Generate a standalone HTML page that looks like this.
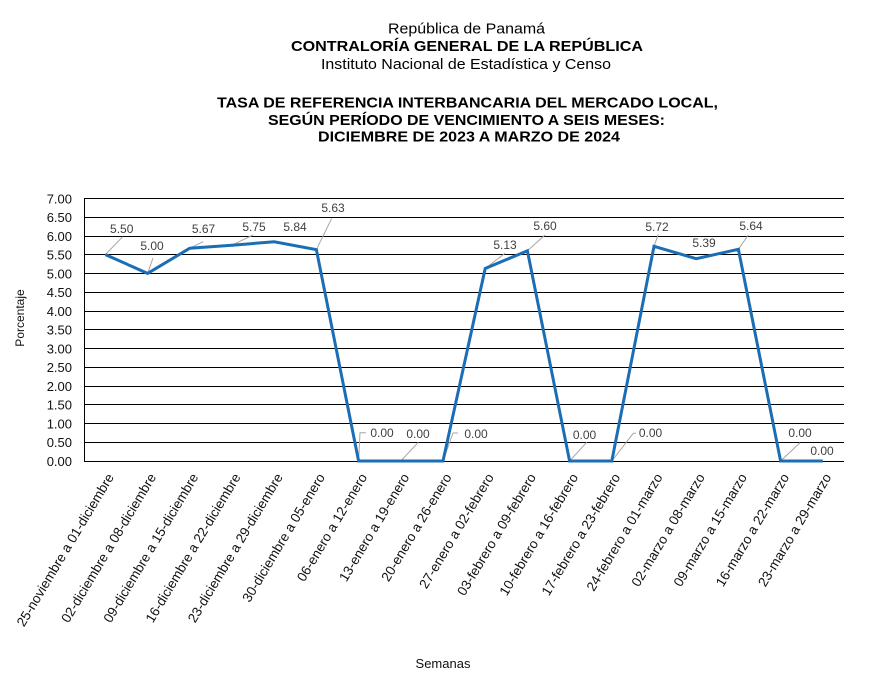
<!DOCTYPE html>
<html>
<head>
<meta charset="utf-8">
<style>
html,body{margin:0;padding:0;background:#fff;}
svg{display:block;}
text{font-family:"Liberation Sans",Arial,sans-serif;}
</style>
</head>
<body>
<svg width="878" height="679" viewBox="0 0 878 679" xmlns="http://www.w3.org/2000/svg">
<rect width="878" height="679" fill="#fff"/>
<!-- Titles -->
<g fill="#000" font-size="15" text-anchor="start">
<text x="388" y="33.3" textLength="157" lengthAdjust="spacingAndGlyphs">República de Panamá</text>
<text x="291" y="51" font-weight="bold" textLength="352" lengthAdjust="spacingAndGlyphs">CONTRALORÍA GENERAL DE LA REPÚBLICA</text>
<text x="321" y="69" textLength="290" lengthAdjust="spacingAndGlyphs">Instituto  Nacional de Estadística y Censo</text>
<text x="217" y="107.5" font-weight="bold" textLength="501" lengthAdjust="spacingAndGlyphs">TASA DE REFERENCIA INTERBANCARIA DEL MERCADO LOCAL,</text>
<text x="268" y="125" font-weight="bold" textLength="397" lengthAdjust="spacingAndGlyphs">SEGÚN PERÍODO DE VENCIMIENTO A SEIS MESES:</text>
<text x="318" y="141.5" font-weight="bold" textLength="302" lengthAdjust="spacingAndGlyphs">DICIEMBRE DE 2023 A MARZO DE 2024</text>
</g>

<!-- Gridlines -->
<g stroke="#000" stroke-width="1" shape-rendering="crispEdges">
<line x1="84" y1="198.5" x2="844" y2="198.5"/>
<line x1="84" y1="217.5" x2="844" y2="217.5"/>
<line x1="84" y1="236.5" x2="844" y2="236.5"/>
<line x1="84" y1="254.5" x2="844" y2="254.5"/>
<line x1="84" y1="273.5" x2="844" y2="273.5"/>
<line x1="84" y1="292.5" x2="844" y2="292.5"/>
<line x1="84" y1="311.5" x2="844" y2="311.5"/>
<line x1="84" y1="329.5" x2="844" y2="329.5"/>
<line x1="84" y1="348.5" x2="844" y2="348.5"/>
<line x1="84" y1="367.5" x2="844" y2="367.5"/>
<line x1="84" y1="386.5" x2="844" y2="386.5"/>
<line x1="84" y1="404.5" x2="844" y2="404.5"/>
<line x1="84" y1="423.5" x2="844" y2="423.5"/>
<line x1="84" y1="442.5" x2="844" y2="442.5"/>
<line x1="84" y1="461.5" x2="844" y2="461.5"/>
<line x1="84.5" y1="198" x2="84.5" y2="462"/>
</g>

<!-- Y tick labels -->
<g fill="#111" font-size="13" text-anchor="end">
<text x="72" y="203.3">7.00</text>
<text x="72" y="222">6.50</text>
<text x="72" y="240.8">6.00</text>
<text x="72" y="259.5">5.50</text>
<text x="72" y="278.3">5.00</text>
<text x="72" y="297">4.50</text>
<text x="72" y="315.8">4.00</text>
<text x="72" y="334.6">3.50</text>
<text x="72" y="353.3">3.00</text>
<text x="72" y="372.1">2.50</text>
<text x="72" y="390.8">2.00</text>
<text x="72" y="409.6">1.50</text>
<text x="72" y="428.4">1.00</text>
<text x="72" y="447.1">0.50</text>
<text x="72" y="465.9">0.00</text>
</g>

<!-- Y axis title -->
<text x="0" y="0" font-size="12" fill="#111" text-anchor="middle" transform="translate(24,318) rotate(-90)">Porcentaje</text>

<!-- Leader lines -->
<g stroke="#a6a6a6" stroke-width="1" fill="none">
<line x1="105.4" y1="254.6" x2="122.7" y2="236.7"/>
<line x1="147.6" y1="273.4" x2="153" y2="258"/>
<line x1="189.8" y1="248.2" x2="203.3" y2="241.7"/>
<line x1="232" y1="245.2" x2="253" y2="235"/>
<line x1="316.4" y1="249.7" x2="331.7" y2="218.3"/>
<polyline points="358.6,461 360,432.7 366,432.7"/>
<line x1="400.8" y1="461" x2="418.3" y2="442.3"/>
<polyline points="443,461 453,433 458,433"/>
<line x1="485.2" y1="268.5" x2="505" y2="253.3"/>
<line x1="527.4" y1="250.8" x2="545" y2="235"/>
<line x1="569.6" y1="461" x2="586.7" y2="442.3"/>
<polyline points="611.8,461 633.3,433.3 636,433.3"/>
<line x1="654" y1="246.3" x2="658.3" y2="234.3"/>
<line x1="738.4" y1="249.3" x2="748.3" y2="235"/>
<line x1="780.6" y1="461" x2="800" y2="442.7"/>
</g>

<!-- Series line -->
<polyline fill="none" stroke="#1b6db5" stroke-width="3" stroke-linejoin="miter"
points="105.4,254.6 147.6,273.4 189.8,248.2 232,245.2 274.2,241.8 316.4,249.7 358.6,461 400.8,461 443,461 485.2,268.5 527.4,250.8 569.6,461 611.8,461 654,246.3 696.2,258.7 738.4,249.3 780.6,461 822.8,461"/>

<!-- Data labels -->
<g fill="#404040" font-size="12" text-anchor="middle">
<text x="121.7" y="233">5.50</text>
<text x="152" y="250">5.00</text>
<text x="203.5" y="233">5.67</text>
<text x="254" y="231">5.75</text>
<text x="295" y="231">5.84</text>
<text x="333" y="212">5.63</text>
<text x="382" y="437">0.00</text>
<text x="418" y="438">0.00</text>
<text x="476" y="438">0.00</text>
<text x="505" y="249">5.13</text>
<text x="545" y="230">5.60</text>
<text x="584.5" y="439">0.00</text>
<text x="650.5" y="437">0.00</text>
<text x="657" y="231">5.72</text>
<text x="704" y="247">5.39</text>
<text x="751" y="230">5.64</text>
<text x="800" y="437">0.00</text>
<text x="822" y="455">0.00</text>
</g>

<!-- X labels -->
<g fill="#111" font-size="13.5" text-anchor="end">
<text transform="translate(114.4,477) rotate(-59)">25-noviembre a 01-diciembre</text>
<text transform="translate(156.6,477) rotate(-59)">02-diciembre a 08-diciembre</text>
<text transform="translate(198.8,477) rotate(-59)">09-diciembre a 15-diciembre</text>
<text transform="translate(241,477) rotate(-59)">16-diciembre a 22-diciembre</text>
<text transform="translate(283.2,477) rotate(-59)">23-diciembre a 29-diciembre</text>
<text transform="translate(325.4,477) rotate(-59)">30-diciembre a 05-enero</text>
<text transform="translate(367.6,477) rotate(-59)">06-enero a 12-enero</text>
<text transform="translate(409.8,477) rotate(-59)">13-enero a 19-enero</text>
<text transform="translate(452,477) rotate(-59)">20-enero a 26-enero</text>
<text transform="translate(494.2,477) rotate(-59)">27-enero a 02-febrero</text>
<text transform="translate(536.4,477) rotate(-59)">03-febrero a 09-febrero</text>
<text transform="translate(578.6,477) rotate(-59)">10-febrero a 16-febrero</text>
<text transform="translate(620.8,477) rotate(-59)">17-febrero a 23-febrero</text>
<text transform="translate(663,477) rotate(-59)">24-febrero a 01-marzo</text>
<text transform="translate(705.2,477) rotate(-59)">02-marzo a 08-marzo</text>
<text transform="translate(747.4,477) rotate(-59)">09-marzo a 15-marzo</text>
<text transform="translate(789.6,477) rotate(-59)">16-marzo a 22-marzo</text>
<text transform="translate(831.8,477) rotate(-59)">23-marzo a 29-marzo</text>
</g>

<!-- X axis title -->
<text x="443" y="668" font-size="13" fill="#111" text-anchor="middle">Semanas</text>
</svg>
</body>
</html>
